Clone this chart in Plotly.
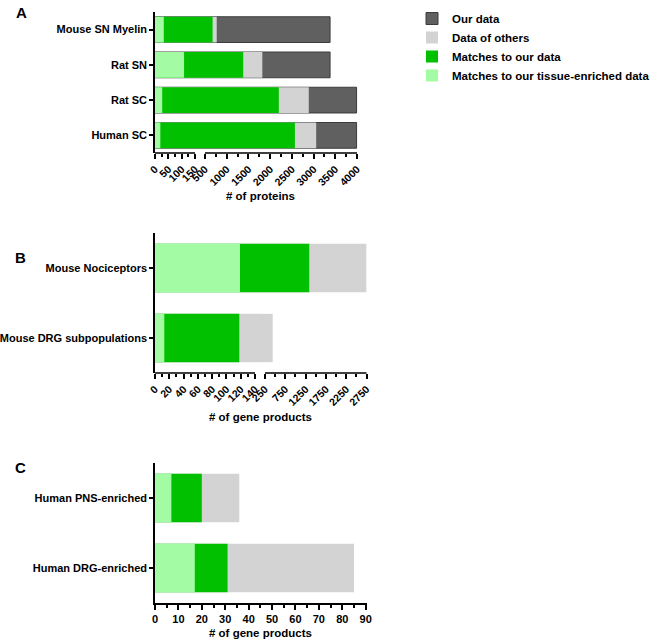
import plotly.graph_objects as go

W, H = 655, 642

# ---------------- data ----------------
series_names = ["Our data", "Data of others", "Matches to our data",
                "Matches to our tissue-enriched data"]
series_colors = ["#606060", "#d3d3d3", "#00c000", "#a3fba3"]

cats_A = ["Mouse SN Myelin", "Rat SN", "Rat SC", "Human SC"]
A_our = [3380, 3380, 3990, 3990]
A_others = [770, 1820, 2890, 3060]
A_matches = [675, 1380, 2200, 2570]
A_tissue = [33, 109, 27, 20]

cats_B = ["Mouse Nociceptors", "Mouse DRG subpopulations"]
B_others = [2745, 440]
B_matches = [1340, 118]
B_tissue = [119, 13]

cats_C = ["Human PNS-enriched", "Human DRG-enriched"]
C_others = [36, 85]
C_matches = [20, 31]
C_tissue = [7, 17]

A_ticks1 = [0, 50, 100, 150]
A_minor1 = [25, 75, 125]
A_ticks2 = [500, 1000, 1500, 2000, 2500, 3000, 3500, 4000]
A_minor2 = [750, 1250, 1750, 2250, 2750, 3250, 3750]
B_ticks1 = [0, 20, 40, 60, 80, 100, 120, 140]
B_minor1 = [10, 30, 50, 70, 90, 110, 130]
B_ticks2 = [250, 750, 1250, 1750, 2250, 2750]
B_minor2 = [500, 1000, 1500, 2000, 2500]
C_ticks = [0, 10, 20, 30, 40, 50, 60, 70, 80, 90]
C_minor = [5, 15, 25, 35, 45, 55, 65, 75, 85]

FONT = "Liberation Sans, Arial, sans-serif"


def px(x):
    return x / W


def py(y):
    return 1 - y / H


fig = go.Figure()


def add_bars(cats, values, idx, xa, ya, width, show):
    line = dict(color="#3c3c3c", width=1) if idx == 0 else dict(width=0)
    fig.add_trace(go.Bar(
        y=cats, x=values, orientation="h", name=series_names[idx],
        marker=dict(color=series_colors[idx], line=line),
        width=width, xaxis=xa, yaxis=ya, showlegend=show,
        legendgroup=series_names[idx], legendrank=idx + 1,
    ))


# Panel A (two x segments)
for xa in ["x", "x2"]:
    for i, vals in enumerate([A_our, A_others, A_matches, A_tissue]):
        add_bars(cats_A, vals, i, xa, "y", 0.73, xa == "x")
# Panel B
for xa in ["x3", "x4"]:
    for i, vals in zip([1, 2, 3], [B_others, B_matches, B_tissue]):
        add_bars(cats_B, vals, i, xa, "y2", 0.69, False)
# Panel C
for i, vals in zip([1, 2, 3], [C_others, C_matches, C_tissue]):
    add_bars(cats_C, vals, i, "x5", "y3", 0.69, False)

tickfont_rot = dict(family=FONT, size=10.5, color="black", weight="bold")
tickfont = dict(family=FONT, size=11, color="black", weight="bold")


def xaxis(domain, rng, tickvals, minor, anchor, angle=-45, showline=False, tf=None):
    return dict(
        domain=[px(domain[0]), px(domain[1])], range=rng, anchor=anchor,
        automargin=False,
        tickmode="array", tickvals=tickvals, ticktext=[str(t) for t in tickvals],
        ticks="outside", ticklen=5, tickwidth=1.5, tickcolor="black",
        minor=dict(tickmode="array", tickvals=minor, ticks="outside",
                   ticklen=3, tickwidth=1.5, tickcolor="black"),
        tickangle=angle, tickfont=tf or tickfont_rot,
        showgrid=False, zeroline=False, showline=showline,
        linecolor="black", linewidth=1.5, fixedrange=True,
    )


def yaxis(domain, cats, anchor):
    return dict(
        domain=[py(domain[1]), py(domain[0])], anchor=anchor,
        automargin=False,
        type="category", categoryorder="array", categoryarray=cats,
        range=[len(cats) - 0.5, -0.5],
        ticks="outside", ticklen=4, tickwidth=1.5, tickcolor="black",
        tickfont=tickfont, showline=True, linecolor="black", linewidth=1.5,
        showgrid=False, zeroline=False, fixedrange=True,
    )


# pixel scales of the segments (reference geometry)
sA1 = (195 - 155) / 150
sA2 = (357 - 205) / 3500
sB1 = (255 - 155) / 140
sB2 = (366.5 - 265) / 2500
sC = (365.7 - 155) / 90

fig.update_layout(
    xaxis=xaxis((155, 201), [0, (201 - 155) / sA1], A_ticks1, A_minor1, "y"),
    xaxis2=xaxis((200, 359), [500 - 5 / sA2, 4000 + 2 / sA2], A_ticks2, A_minor2, "y"),
    yaxis=yaxis((12, 153), cats_A, "x"),
    xaxis3=xaxis((155, 261), [0, (261 - 155) / sB1], B_ticks1, B_minor1, "y2"),
    xaxis4=xaxis((260, 368), [250 - 5 / sB2, 2750 + 1.5 / sB2], B_ticks2, B_minor2, "y2"),
    yaxis2=yaxis((233, 373), cats_B, "x3"),
    xaxis5=xaxis((155, 367), [0, (367 - 155) / sC], C_ticks, C_minor, "y3",
                 angle=0, showline=True, tf=dict(family=FONT, size=11, color="black", weight="bold")),
    yaxis3=yaxis((463, 603), cats_C, "x5"),
)

# broken x-axis lines
shape_line = dict(color="black", width=1.5)
for xr, yr, a, b in [("x", "y", 0, 150), ("x2", "y", 500, 4000),
                     ("x3", "y2", 0, 140), ("x4", "y2", 250, 2750)]:
    fig.add_shape(type="line", xref=xr, yref=yr + " domain", x0=a, x1=b,
                  y0=0, y1=0, line=shape_line, layer="above")

ann_font = dict(family=FONT, size=11.5, color="black", weight="bold")
letter_font = dict(family=FONT, size=15, color="black", weight="bold")
annotations = [
    dict(text="# of proteins", x=px(260), y=py(196), font=ann_font),
    dict(text="# of gene products", x=px(260), y=py(417), font=ann_font),
    dict(text="# of gene products", x=px(260), y=py(633), font=ann_font),
    dict(text="A", x=px(21), y=py(12), font=letter_font),
    dict(text="B", x=px(20), y=py(257), font=letter_font),
    dict(text="C", x=px(20), y=py(467), font=letter_font),
]
for a in annotations:
    a.update(xref="paper", yref="paper", showarrow=False,
             xanchor="center", yanchor="middle")

fig.update_layout(
    annotations=annotations,
    barmode="overlay",
    width=W, height=H,
    margin=dict(l=0, r=0, t=0, b=0, autoexpand=False),
    paper_bgcolor="white", plot_bgcolor="white",
    font=dict(family=FONT, color="black"),
    legend=dict(x=px(412), y=py(4), xanchor="left", yanchor="top",
                traceorder="normal",
                font=dict(family=FONT, size=11.5, color="black", weight="bold"),
                bgcolor="rgba(0,0,0,0)", itemclick=False, tracegroupgap=0),
)

fig.write_html("out.html", config=dict(displayModeBar=False),
               post_script="document.body.style.margin='0px';")
